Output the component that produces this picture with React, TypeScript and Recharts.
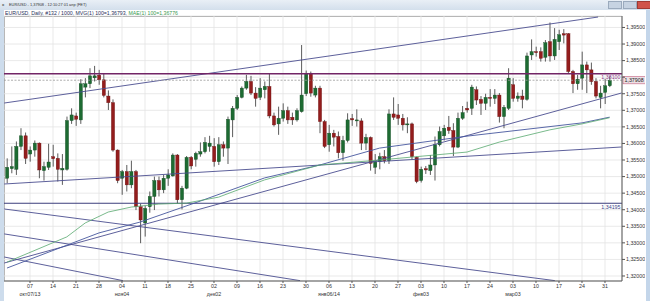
import React from "react";
import {
  Bar,
  CartesianGrid,
  ComposedChart,
  Line,
  ReferenceLine,
  XAxis,
  YAxis,
} from "recharts";

// daily EUR/USD candles, 30 Sep 2013 .. 01 Apr 2014
const OPEN = [
  1.3495, 1.3524, 1.3522, 1.3591, 1.3623, 1.3568, 1.3580, 1.3601, 1.3518, 1.3528,
  1.3560, 1.3555, 1.3520, 1.3522, 1.3669, 1.3683, 1.3671, 1.3770, 1.3780, 1.3798,
  1.3806, 1.3792, 1.3743, 1.3723, 1.3580, 1.3495, 1.3515, 1.3475, 1.3515, 1.3409,
  1.3360, 1.3409, 1.3440, 1.3488, 1.3460, 1.3495, 1.3502, 1.3565, 1.3430, 1.3465,
  1.3558, 1.3552, 1.3568, 1.3575, 1.3591, 1.3591, 1.3545, 1.3596, 1.3586, 1.3671,
  1.3706, 1.3739, 1.3767, 1.3787, 1.3752, 1.3739, 1.3762, 1.3772, 1.3683, 1.3659,
  1.3676, 1.3699, 1.3679, 1.3671, 1.3696, 1.3750, 1.3812, 1.3746, 1.3767, 1.3666,
  1.3596, 1.3631, 1.3621, 1.3572, 1.3609, 1.3675, 1.3668, 1.3668, 1.3601, 1.3618,
  1.3528, 1.3545, 1.3560, 1.3548, 1.3689, 1.3686, 1.3676, 1.3656, 1.3659, 1.3558,
  1.3488, 1.3524, 1.3518, 1.3535, 1.3596, 1.3623, 1.3649, 1.3639, 1.3589, 1.3676,
  1.3706, 1.3706, 1.3762, 1.3733, 1.3721, 1.3739, 1.3736, 1.3746, 1.3681, 1.3706,
  1.3777, 1.3736, 1.3743, 1.3733, 1.3867, 1.3877, 1.3877, 1.3860, 1.3907, 1.3864,
  1.3907, 1.3931, 1.3931, 1.3817, 1.3780, 1.3797, 1.3837, 1.3822, 1.3787, 1.3739,
  1.3754, 1.3774,
];
const HIGH = [
  1.3555, 1.3591, 1.3606, 1.3646, 1.3633, 1.3591, 1.3609, 1.3603, 1.3545, 1.3599,
  1.3596, 1.3570, 1.3568, 1.3681, 1.3706, 1.3693, 1.3794, 1.3797, 1.3827, 1.3834,
  1.3822, 1.3810, 1.3760, 1.3733, 1.3582, 1.3520, 1.3535, 1.3548, 1.3520, 1.3418,
  1.3411, 1.3455, 1.3500, 1.3500, 1.3505, 1.3522, 1.3570, 1.3568, 1.3472, 1.3562,
  1.3562, 1.3575, 1.3603, 1.3619, 1.3623, 1.3616, 1.3619, 1.3606, 1.3681, 1.3713,
  1.3746, 1.3772, 1.3807, 1.3804, 1.3770, 1.3797, 1.3787, 1.3812, 1.3693, 1.3711,
  1.3721, 1.3711, 1.3693, 1.3706, 1.3897, 1.3820, 1.3817, 1.3774, 1.3774, 1.3671,
  1.3656, 1.3641, 1.3636, 1.3623, 1.3691, 1.3689, 1.3703, 1.3676, 1.3629, 1.3621,
  1.3568, 1.3572, 1.3580, 1.3703, 1.3739, 1.3719, 1.3689, 1.3679, 1.3663, 1.3560,
  1.3530, 1.3532, 1.3565, 1.3621, 1.3651, 1.3656, 1.3683, 1.3661, 1.3693, 1.3713,
  1.3726, 1.3777, 1.3772, 1.3743, 1.3750, 1.3764, 1.3764, 1.3752, 1.3716, 1.3827,
  1.3797, 1.3754, 1.3762, 1.3874, 1.3914, 1.3892, 1.3890, 1.3912, 1.3965, 1.3948,
  1.3943, 1.3945, 1.3933, 1.3822, 1.3807, 1.3877, 1.3847, 1.3844, 1.3797, 1.3774,
  1.3794, 1.3802,
];
const LOW = [
  1.3480, 1.3510, 1.3505, 1.3580, 1.3538, 1.3545, 1.3560, 1.3495, 1.3488, 1.3520,
  1.3530, 1.3485, 1.3475, 1.3518, 1.3659, 1.3653, 1.3659, 1.3739, 1.3767, 1.3787,
  1.3777, 1.3739, 1.3701, 1.3575, 1.3480, 1.3445, 1.3455, 1.3465, 1.3399, 1.3299,
  1.3319, 1.3391, 1.3399, 1.3440, 1.3450, 1.3472, 1.3500, 1.3418, 1.3401, 1.3462,
  1.3522, 1.3530, 1.3560, 1.3570, 1.3575, 1.3530, 1.3535, 1.3560, 1.3538, 1.3619,
  1.3701, 1.3736, 1.3762, 1.3746, 1.3711, 1.3731, 1.3736, 1.3676, 1.3651, 1.3626,
  1.3666, 1.3659, 1.3656, 1.3666, 1.3693, 1.3743, 1.3741, 1.3739, 1.3631, 1.3586,
  1.3575, 1.3591, 1.3555, 1.3548, 1.3603, 1.3653, 1.3651, 1.3580, 1.3580, 1.3518,
  1.3508, 1.3522, 1.3540, 1.3538, 1.3671, 1.3656, 1.3639, 1.3631, 1.3552, 1.3480,
  1.3482, 1.3508, 1.3505, 1.3488, 1.3591, 1.3609, 1.3629, 1.3562, 1.3586, 1.3671,
  1.3693, 1.3686, 1.3716, 1.3686, 1.3701, 1.3711, 1.3719, 1.3663, 1.3646, 1.3701,
  1.3726, 1.3726, 1.3706, 1.3729, 1.3852, 1.3862, 1.3847, 1.3847, 1.3847, 1.3852,
  1.3882, 1.3902, 1.3812, 1.3752, 1.3762, 1.3762, 1.3752, 1.3777, 1.3736, 1.3706,
  1.3719, 1.3770,
];
const CLOSE = [
  1.3528, 1.3530, 1.3591, 1.3623, 1.3555, 1.3580, 1.3601, 1.3520, 1.3530, 1.3544,
  1.3554, 1.3522, 1.3525, 1.3669, 1.3686, 1.3673, 1.3780, 1.3780, 1.3804, 1.3804,
  1.3792, 1.3745, 1.3723, 1.3580, 1.3488, 1.3515, 1.3475, 1.3515, 1.3409, 1.3369,
  1.3404, 1.3440, 1.3488, 1.3460, 1.3495, 1.3505, 1.3565, 1.3430, 1.3465, 1.3558,
  1.3532, 1.3570, 1.3575, 1.3603, 1.3601, 1.3545, 1.3596, 1.3586, 1.3673, 1.3706,
  1.3739, 1.3767, 1.3787, 1.3752, 1.3736, 1.3767, 1.3772, 1.3683, 1.3656, 1.3676,
  1.3699, 1.3671, 1.3671, 1.3699, 1.3746, 1.3812, 1.3752, 1.3767, 1.3666, 1.3591,
  1.3631, 1.3619, 1.3572, 1.3609, 1.3671, 1.3671, 1.3671, 1.3601, 1.3618, 1.3540,
  1.3545, 1.3560, 1.3548, 1.3689, 1.3679, 1.3676, 1.3656, 1.3659, 1.3560, 1.3485,
  1.3522, 1.3520, 1.3535, 1.3596, 1.3636, 1.3646, 1.3639, 1.3589, 1.3676, 1.3693,
  1.3701, 1.3770, 1.3731, 1.3721, 1.3739, 1.3736, 1.3746, 1.3681, 1.3709, 1.3797,
  1.3736, 1.3743, 1.3733, 1.3864, 1.3877, 1.3874, 1.3857, 1.3904, 1.3864, 1.3914,
  1.3928, 1.3927, 1.3817, 1.3780, 1.3794, 1.3837, 1.3822, 1.3787, 1.3743, 1.3752,
  1.3774, 1.3791,
];

// 100-period averages, read at a few candles
const MVG_INDEX = [0, 20, 29, 42, 56, 68, 81, 100, 125, 131];
const MVG_VALUES = [1.3224, 1.333, 1.3363, 1.3426, 1.3496, 1.3535, 1.3586, 1.3622, 1.3662, 1.36793];
const MAE_INDEX = [0, 13, 17, 22, 27, 33, 39, 46, 56, 68, 81, 100, 107, 118, 125, 131];
const MAE_VALUES = [
  1.3242, 1.3318, 1.336, 1.3393, 1.3408, 1.3417, 1.342, 1.3438, 1.349, 1.3535,
  1.355, 1.3574, 1.3604, 1.3641, 1.3659, 1.36776,
];

// drawn trend lines: [fromCandle, fromPrice, toCandle, toPrice]
const TRENDLINES = [
  [-0.6, 1.3722, 128.5, 1.39815],
  [-0.6, 1.34776, 133.6, 1.35893],
  [-0.6, 1.32392, 133.6, 1.37522],
  [-0.6, 1.34022, 119.1, 1.3186],
  [-0.6, 1.3327, 63.7, 1.3186],
  [-0.6, 1.32573, 25.2, 1.3186],
];

const LEVEL_RESIST = 1.381;
const LEVEL_LAST = 1.37908;
const LEVEL_SUPPORT = 1.34195;

const TICK_INDEX = [
  5, 10, 15, 20, 25, 30, 35, 40, 45, 50, 55, 60, 65, 70, 75, 80, 85, 90, 95, 100,
  105, 110, 115, 120, 125, 130,
];
const TICK_DAYS = [
  "07", "14", "21", "28", "04", "11", "18", "25", "02", "09", "16", "23", "30",
  "06", "13", "20", "27", "03", "10", "17", "24", "03", "10", "17", "24", "31",
];
const TICK_MONTHS = [
  "окт07/13", "", "", "", "ноя04", "", "", "", "дек02", "", "", "", "",
  "янв06/14", "", "", "", "фев03", "", "", "", "мар03", "", "", "", "",
];
const PRICE_TICKS = [
  1.32, 1.325, 1.33, 1.335, 1.34, 1.345, 1.35, 1.355, 1.36, 1.365, 1.37, 1.375,
  1.38, 1.385, 1.39, 1.395,
];

const X_DOMAIN: [number, number] = [-0.652, 133.696];
const Y_DOMAIN: [number, number] = [1.31849, 1.39846];

const FONT = "'Liberation Sans', Arial, sans-serif";
const UP = "#1d6b32";
const DOWN = "#931d1d";
const WICK = "#4a4a4a";
const TREND = "#4b4e90";

const fmt = (v: number) => v.toFixed(5).replace(".", ",");

const candles = OPEN.map((o, i) => ({
  i,
  o,
  h: HIGH[i],
  l: LOW[i],
  c: CLOSE[i],
  range: [LOW[i], HIGH[i]],
}));
const mvg = MVG_INDEX.map((i, k) => ({ i, v: MVG_VALUES[k] }));
const mae = MAE_INDEX.map((i, k) => ({ i, v: MAE_VALUES[k] }));

function Candle(props: any) {
  const { x, y, width, height, payload } = props;
  if (x == null || y == null) return null;
  const { o, h, l, c } = payload;
  const top = Math.min(y, y + height);
  const span = Math.abs(height);
  const cx = x + width / 2;
  const py = (v: number) => (h === l ? top : top + ((h - v) / (h - l)) * span);
  const up = c >= o;
  const bTop = py(Math.max(o, c));
  const bBot = py(Math.min(o, c));
  return (
    <g>
      <line x1={cx} x2={cx} y1={top} y2={top + span} stroke={WICK} strokeWidth={0.9} />
      <rect
        x={cx - 1.6}
        y={bTop}
        width={3.2}
        height={Math.max(bBot - bTop, 0.9)}
        fill={up ? UP : DOWN}
        stroke={up ? "#174f26" : "#6e1212"}
        strokeWidth={0.4}
      />
    </g>
  );
}

function DateTick(props: any) {
  const { x, y, payload } = props;
  const k = TICK_INDEX.indexOf(payload.value);
  return (
    <g fontFamily={FONT} fontSize={5.3} fill="#333">
      <text x={x} y={y + 4} textAnchor="middle">
        {TICK_DAYS[k]}
      </text>
      {TICK_MONTHS[k] ? (
        <text x={x} y={y + 11.5} textAnchor="middle">
          {TICK_MONTHS[k]}
        </text>
      ) : null}
    </g>
  );
}

// the 1,38000 label sits under the last-price tag, so it is not drawn
function PriceTick(props: any) {
  const { x, y, payload } = props;
  if (Math.abs(payload.value - LEVEL_LAST) < 0.0015) return null;
  return (
    <text x={x} y={y} dy="0.355em" fontSize={5.3} fontFamily={FONT} fill="#333">
      {fmt(payload.value)}
    </text>
  );
}

function PriceTag(props: any) {
  const { viewBox } = props;
  if (!viewBox) return null;
  const x = viewBox.x + viewBox.width + 1;
  const y = viewBox.y;
  return (
    <g>
      <rect x={x} y={y - 3.6} width={23} height={7.2} fill="#ecdfe4" stroke="#c25c7c" strokeWidth={0.6} />
      <text x={x + 1.5} y={y + 1.9} fontSize={5.3} fontFamily={FONT} fill="#222">
        {fmt(LEVEL_LAST)}
      </text>
    </g>
  );
}

export default function App() {
  return (
    <div
      style={{
        position: "absolute",
        left: 0,
        top: 0,
        width: 650,
        height: 301,
        overflow: "hidden",
        background: "#cddcec",
        fontFamily: FONT,
      }}
    >
      <div
        style={{
          position: "absolute",
          left: 0,
          top: 0,
          width: 650,
          height: 10,
          background: "linear-gradient(#e9eff6, #d3dfec)",
          fontSize: 3.9,
          lineHeight: "10px",
          color: "#333",
        }}
      >
        <span style={{ position: "absolute", left: 2, top: 0 }}>=</span>
        <span style={{ position: "absolute", left: 9, top: 0 }}>
          EUR/USD - 1,37908 - 12:10:27 01 апр (FET)
        </span>
        <div style={{ position: "absolute", left: 608, top: 1, width: 12, height: 6, background: "#c6d3e2", border: "0.5px solid #9aaabd" }} />
        <div style={{ position: "absolute", left: 623, top: 1, width: 12, height: 6, background: "#c6d3e2", border: "0.5px solid #9aaabd" }} />
        <div style={{ position: "absolute", left: 637, top: 1, width: 12, height: 6, background: "#d0534a", border: "0.5px solid #a03a33" }} />
      </div>
      <div
        style={{
          position: "absolute",
          left: 4,
          top: 10,
          width: 642,
          height: 291,
          background: "#ffffff",
        }}
      />
      <div
        style={{
          position: "absolute",
          left: 5,
          top: 10,
          fontSize: 5.2,
          lineHeight: "6px",
          color: "#2a2f5a",
          whiteSpace: "nowrap",
        }}
      >
        EUR/USD, Daily, #132 / 1000, MVG(1) 100=1,36793,{" "}
        <span style={{ color: "#3c9a50" }}>MAE(1) 100=1,36776</span>
      </div>
      <div
        style={{
          position: "absolute",
          left: 4,
          top: 16,
          width: 618,
          height: 265,
          borderLeft: "1px solid #9a9a9a",
          borderTop: "1px solid #9a9a9a",
          boxSizing: "border-box",
        }}
      />
      <div style={{ position: "absolute", left: 4, top: 10 }}>
        <ComposedChart
          width={641}
          height={291}
          data={candles}
          margin={{ top: 6, right: 0, bottom: 0, left: 0 }}
        >
          <CartesianGrid stroke="#e3e3e3" strokeWidth={0.8} />
          <XAxis
            dataKey="i"
            type="number"
            domain={X_DOMAIN}
            allowDataOverflow
            ticks={TICK_INDEX}
            interval={0}
            height={20}
            tickSize={2}
            tickMargin={1}
            stroke="#555"
            tick={<DateTick />}
          />
          <YAxis
            orientation="right"
            type="number"
            domain={Y_DOMAIN}
            allowDataOverflow
            ticks={PRICE_TICKS}
            interval={0}
            width={23}
            tickSize={3}
            tickMargin={1}
            stroke="#555"
            tick={<PriceTick />}
          />
          {TRENDLINES.map(([x1, y1, x2, y2], k) => (
            <ReferenceLine
              key={k}
              segment={[
                { x: x1, y: y1 },
                { x: x2, y: y2 },
              ]}
              stroke={TREND}
              strokeWidth={0.9}
              ifOverflow="hidden"
            />
          ))}
          <ReferenceLine
            y={LEVEL_SUPPORT}
            stroke="#3c3f7c"
            strokeWidth={1}
            label={{
              value: fmt(LEVEL_SUPPORT),
              position: "insideTopRight",
              offset: 1.5,
              fontSize: 5.3,
              fill: "#3c3f8a",
              fontFamily: FONT,
            }}
          />
          <Line
            data={mvg}
            dataKey="v"
            stroke="#46579e"
            strokeWidth={0.9}
            dot={false}
            isAnimationActive={false}
          />
          <Line
            data={mae}
            dataKey="v"
            stroke="#58a86f"
            strokeWidth={0.8}
            dot={false}
            isAnimationActive={false}
          />
          <ReferenceLine
            y={LEVEL_RESIST}
            stroke="#722566"
            strokeWidth={1.5}
            label={{
              value: fmt(LEVEL_RESIST),
              position: "insideTopRight",
              offset: 1.5,
              fontSize: 5.3,
              fill: "#8a3a86",
              fontFamily: FONT,
            }}
          />
          <ReferenceLine
            y={LEVEL_LAST}
            stroke="#9a9a9a"
            strokeDasharray="2 1.5"
            strokeWidth={0.8}
            label={<PriceTag />}
          />
          <Bar
            dataKey="range"
            barSize={3}
            isAnimationActive={false}
            shape={(p: any) => <Candle {...p} />}
          />
        </ComposedChart>
      </div>
      <div style={{ position: "absolute", left: 646, top: 10, width: 4, height: 291, background: "#c4d6ea" }} />
    </div>
  );
}
